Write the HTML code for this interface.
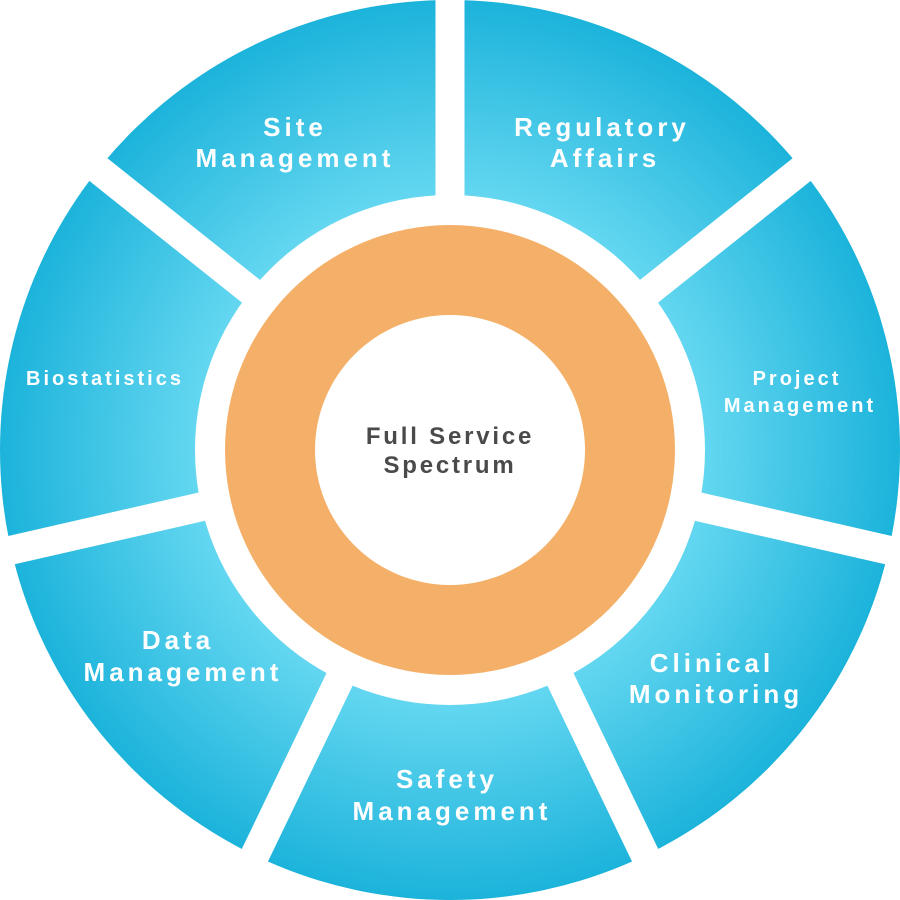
<!DOCTYPE html>
<html><head><meta charset="utf-8"><style>
html,body{margin:0;padding:0;background:#fff;}
svg{display:block;}
text{font-family:"Liberation Sans",sans-serif;font-weight:bold;text-anchor:middle;}
.w{fill:#fff;font-size:26px;letter-spacing:4px;}
.s{fill:#fff;font-size:20px;letter-spacing:3px;}
.c{fill:#4a4a4a;font-size:24px;letter-spacing:2.8px;}
</style></head><body>
<svg width="900" height="900" viewBox="0 0 900 900" xmlns="http://www.w3.org/2000/svg">
<defs>
<radialGradient id="g" cx="450" cy="450" r="450" gradientUnits="userSpaceOnUse">
<stop offset="0.55" stop-color="#66d8f1"/>
<stop offset="1" stop-color="#1cb3db"/>
</radialGradient>
</defs>
<circle cx="450" cy="450" r="450" fill="url(#g)"/>
<circle cx="450" cy="450" r="255" fill="#fff"/>
<g stroke="#fff" stroke-width="29">
<line x1="450" y1="450" x2="450" y2="-10"/>
<line x1="450" y1="450" x2="450" y2="-10" transform="rotate(51.43 450 450)"/>
<line x1="450" y1="450" x2="450" y2="-10" transform="rotate(102.86 450 450)"/>
<line x1="450" y1="450" x2="450" y2="-10" transform="rotate(154.29 450 450)"/>
<line x1="450" y1="450" x2="450" y2="-10" transform="rotate(205.71 450 450)"/>
<line x1="450" y1="450" x2="450" y2="-10" transform="rotate(257.14 450 450)"/>
<line x1="450" y1="450" x2="450" y2="-10" transform="rotate(308.57 450 450)"/>
</g>
<circle cx="450" cy="450" r="225" fill="#f4b068"/>
<circle cx="450" cy="450" r="135" fill="#fff"/>
<text class="w" x="295" y="136">Site</text>
<text class="w" x="295" y="167">Management</text>
<text class="w" x="602" y="136">Regulatory</text>
<text class="w" x="605" y="167">Affairs</text>
<text class="s" x="105" y="385">Biostatistics</text>
<text class="s" x="797" y="385">Project</text>
<text class="s" x="800" y="412">Management</text>
<text class="w" x="712" y="672">Clinical</text>
<text class="w" x="716" y="703">Monitoring</text>
<text class="w" x="447" y="788">Safety</text>
<text class="w" x="452" y="820">Management</text>
<text class="w" x="178" y="649">Data</text>
<text class="w" x="183" y="681">Management</text>
<text class="c" x="450" y="444">Full Service</text>
<text class="c" x="450" y="473">Spectrum</text>
</svg>
</body></html>
